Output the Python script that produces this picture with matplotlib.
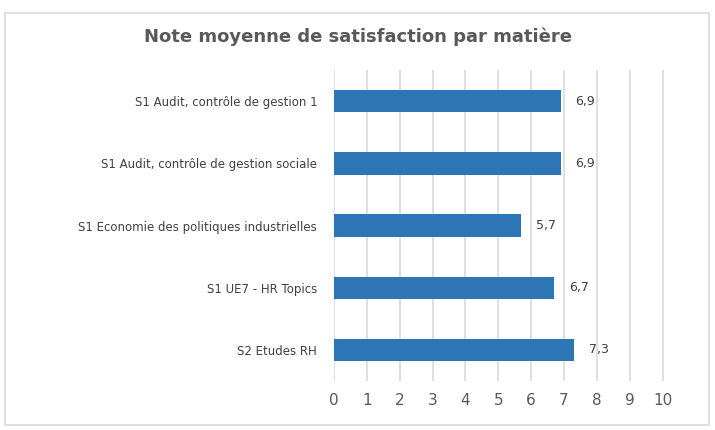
import matplotlib.pyplot as plt
from matplotlib.patches import Rectangle

# =====================================================
# Data
# =====================================================

categories = [
    "S1 Audit, contrôle de gestion 1",
    "S1 Audit, contrôle de gestion sociale",
    "S1 Economie des politiques industrielles",
    "S1 UE7 - HR Topics",
    "S2 Etudes RH",
]
scores = [6.9, 6.9, 5.7, 6.7, 7.3]
x_ticks = list(range(0, 11))

title = "Note moyenne de satisfaction par matière"

# =====================================================
# Plot
# =====================================================

plt.rcParams["font.family"] = ["DejaVu Sans"]

fig = plt.figure(figsize=(7.15, 4.3), dpi=100)
ax = fig.add_axes([0.467, 0.114, 0.462, 0.723])

positions = list(range(len(categories)))[::-1]

ax.barh(positions, scores, height=0.36, color="#2E75B6", zorder=3)

for y, v in zip(positions, scores):
    ax.text(v + 0.45, y, f"{v:.1f}".replace(".", ","),
            va="center", ha="left", fontsize=9, color="#404040")

ax.set_xlim(0, 10.05)
ax.set_ylim(-0.5, len(categories) - 0.5)
ax.set_xticks(x_ticks)
ax.set_xticklabels([str(t) for t in x_ticks], fontsize=11, color="#595959")
ax.set_yticks(positions)
ax.set_yticklabels(categories, fontsize=8.5, color="#404040")

ax.grid(axis="x", color="#D9D9D9", linewidth=1.2, zorder=0)
ax.tick_params(axis="y", length=0, pad=12)
ax.tick_params(axis="x", length=0, pad=9)
for spine in ax.spines.values():
    spine.set_visible(False)

fig.text(0.5, 0.915, title, ha="center", va="center",
         fontsize=13, fontweight="bold", color="#595959")

fig.patches.append(Rectangle((0.007, 0.012), 0.985, 0.958,
                             transform=fig.transFigure, fill=False,
                             edgecolor="#D9D9D9", linewidth=1.2))

plt.savefig("out.png", dpi=100)
